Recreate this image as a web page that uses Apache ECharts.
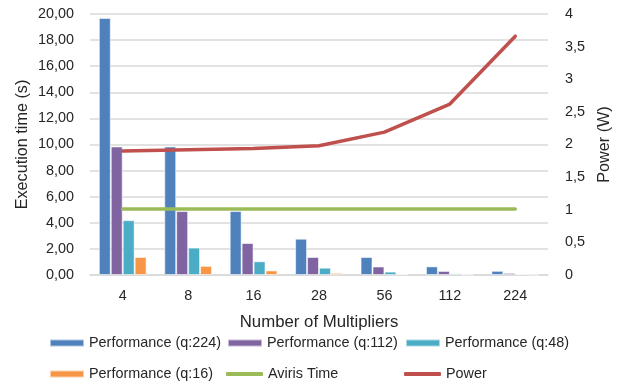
<!DOCTYPE html>
<html>
<head>
<meta charset="utf-8">
<script src="https://cdn.jsdelivr.net/npm/echarts@6/dist/echarts.min.js"></script>
<style>
  html, body { margin: 0; padding: 0; background: #fff; }
  #chart { width: 622px; height: 384px; }
</style>
</head>
<body>
<div id="chart"></div>
<script>
// Number of multipliers on the x axis
const multipliers = ['4', '8', '16', '28', '56', '112', '224'];

// Execution time (s) for each quantization level
const perfQ224 = [19.70, 9.85, 4.90, 2.78, 1.38, 0.66, 0.32];
const perfQ112 = [9.85, 4.90, 2.45, 1.38, 0.65, 0.31, 0.16];
const perfQ48  = [4.20, 2.10, 1.05, 0.56, 0.26, 0.12, 0.08];
const perfQ16  = [1.38, 0.70, 0.35, 0.16, 0.06, 0.03, 0.02];

// Reference time (s) and power draw (W)
const avirisTime = [5.05, 5.05, 5.05, 5.05, 5.05, 5.05, 5.05];
const power = [1.90, 1.92, 1.94, 1.98, 2.19, 2.62, 3.66];

// Axis ranges
const timeMax = 20, timeStep = 2;
const powerMax = 4, powerStep = 0.5;

const FONT = '"Liberation Sans", Arial, sans-serif';
const FS = 14.4;       // tick labels and legend
const FS_TITLE = 16.2; // axis titles
const TXT = '#262626';
const GRID = '#d9d9d9';

const colors = {
  q224: '#4f81bd', q112: '#8064a2', q48: '#4bacc6', q16: '#f79646',
  aviris: '#9bbb59', power: '#c0504d'
};

function barSeries(name, data, color) {
  return {
    name, type: 'bar', data,
    yAxisIndex: 0,
    barGap: '0%', barCategoryGap: '27%',
    itemStyle: { color, borderColor: 'rgba(255,255,255,0.55)', borderWidth: 1 }
  };
}
function lineSeries(name, data, color, axis) {
  return {
    name, type: 'line', data, yAxisIndex: axis,
    symbol: 'none', smooth: false,
    lineStyle: { color, width: 3.5, cap: 'round' },
    itemStyle: { color }
  };
}

function legendAt(name, left, top, isLine) {
  return {
    data: [name], left, top,
    icon: isLine ? 'roundRect' : 'rect',
    itemWidth: isLine ? 37 : 34,
    itemHeight: isLine ? 4 : 7,
    itemGap: 0, padding: 0,
    textStyle: { fontFamily: FONT, fontSize: FS, color: TXT },
    selectedMode: false
  };
}

const chart = echarts.init(document.getElementById('chart'), null, { renderer: 'canvas' });
chart.setOption({
  animation: false,
  backgroundColor: '#ffffff',
  grid: { left: 90, right: 74, top: 14, bottom: 109 },
  legend: [
    legendAt('Performance (q:224)', 49, 336, false),
    legendAt('Performance (q:112)', 227, 336, false),
    legendAt('Performance (q:48)', 405, 336, false),
    legendAt('Performance (q:16)', 49, 367, false),
    legendAt('Aviris Time', 226, 367, true),
    legendAt('Power', 404, 367, true)
  ],
  xAxis: {
    type: 'category', data: multipliers,
    name: 'Number of Multipliers', nameLocation: 'middle', nameGap: 39,
    nameTextStyle: { fontFamily: FONT, fontSize: 16.8, color: TXT },
    axisLine: { lineStyle: { color: GRID, width: 1.5 } },
    axisTick: { show: false },
    axisLabel: { fontFamily: FONT, fontSize: FS, color: TXT, margin: 14 }
  },
  yAxis: [
    {
      type: 'value', min: 0, max: timeMax, interval: timeStep,
      name: 'Execution time (s)', nameLocation: 'middle', nameGap: 59,
      nameMoveOverlap: false,
      nameTextStyle: { fontFamily: FONT, fontSize: FS_TITLE, color: TXT },
      axisLine: { show: false }, axisTick: { show: false },
      axisLabel: {
        fontFamily: FONT, fontSize: FS, color: TXT, margin: 16,
        formatter: v => v.toFixed(2).replace('.', ',')
      },
      splitLine: { lineStyle: { color: GRID, width: 1.5 } }
    },
    {
      type: 'value', min: 0, max: powerMax, interval: powerStep,
      name: 'Power (W)', nameLocation: 'middle', nameGap: 49,
      nameMoveOverlap: false,
      nameTextStyle: { fontFamily: FONT, fontSize: FS_TITLE, color: TXT },
      axisLine: { show: false }, axisTick: { show: false },
      axisLabel: {
        fontFamily: FONT, fontSize: FS, color: TXT, margin: 17,
        formatter: v => String(v).replace('.', ',')
      },
      splitLine: { show: false }
    }
  ],
  series: [
    barSeries('Performance (q:224)', perfQ224, colors.q224),
    barSeries('Performance (q:112)', perfQ112, colors.q112),
    barSeries('Performance (q:48)', perfQ48, colors.q48),
    barSeries('Performance (q:16)', perfQ16, colors.q16),
    lineSeries('Aviris Time', avirisTime, colors.aviris, 0),
    lineSeries('Power', power, colors.power, 1)
  ]
});
</script>
</body>
</html>
